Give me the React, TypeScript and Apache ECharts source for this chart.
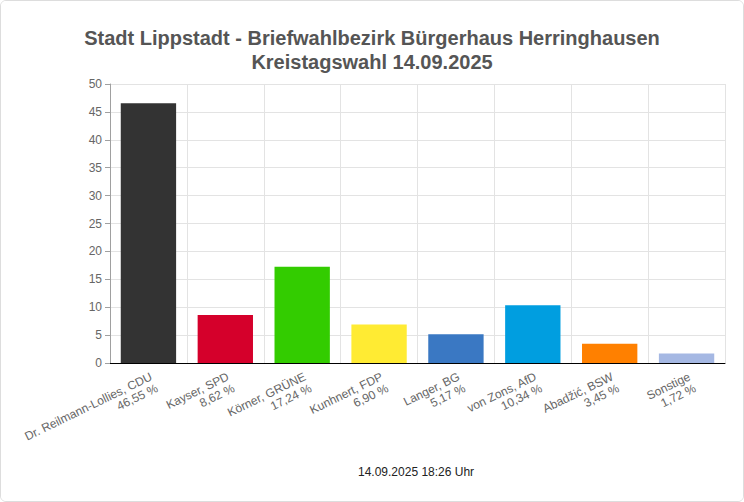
import React, { useEffect, useRef } from "react";
import * as echarts from "echarts";

const categories = [
  "Dr. Reilmann-Lollies, CDU",
  "Kayser, SPD",
  "Körner, GRÜNE",
  "Kunhnert, FDP",
  "Langer, BG",
  "von Zons, AfD",
  "Abadžić, BSW",
  "Sonstige",
];
const values = [46.55, 8.62, 17.24, 6.9, 5.17, 10.34, 3.45, 1.72];
const colors = ["#333333", "#d5002b", "#33cc00", "#ffeb33", "#3a78c3", "#009ee0", "#ff8000", "#a5b8e3"];
const titleText = "Stadt Lippstadt - Briefwahlbezirk Bürgerhaus Herringhausen\nKreistagswahl 14.09.2025";
const footerText = "14.09.2025 18:26 Uhr";

export default function App() {
  const ref = useRef<HTMLDivElement>(null);
  useEffect(() => {
    document.body.style.margin = "0";
    const chart = echarts.init(ref.current!, null, { renderer: "svg" });
    chart.setOption({
      animation: false,
      backgroundColor: "#ffffff",
      title: {
        text: titleText,
        left: "center",
        top: 20,
        textStyle: {
          fontFamily: "Liberation Sans, Arial, sans-serif",
          fontSize: 20,
          fontWeight: "bold",
          color: "#555555",
          lineHeight: 24,
        },
      },
      graphic: [
        {
          type: "text",
          left: 357,
          top: 465,
          style: {
            text: footerText,
            font: "12px Liberation Sans, Arial, sans-serif",
            fill: "#222222",
          },
        },
      ],
      grid: { left: 109, right: 18, top: 83, bottom: 138 },
      xAxis: {
        type: "category",
        data: categories,
        axisLine: { show: true, lineStyle: { color: "#000000", width: 1 } },
        axisTick: { show: false },
        splitLine: { show: true, lineStyle: { color: "#e3e3e3" } },
        axisLabel: {
          rotate: 26,
          interval: 0,
          margin: 7,
          align: "right",
          verticalAlign: "top",
          color: "#666666",
          fontFamily: "Liberation Sans, Arial, sans-serif",
          fontSize: 12,
          lineHeight: 13,
          formatter: (v: string, i: number) =>
            `${v}\n${values[i].toFixed(2).replace(".", ",")} %`,
        },
      },
      yAxis: {
        type: "value",
        min: 0,
        max: 50,
        interval: 5,
        axisLine: { show: true, lineStyle: { color: "#a0a0a0" } },
        axisTick: { show: true, length: 5, lineStyle: { color: "#a0a0a0" } },
        splitLine: { show: true, lineStyle: { color: "#e3e3e3" } },
        axisLabel: {
          color: "#666666",
          fontFamily: "Liberation Sans, Arial, sans-serif",
          fontSize: 12,
          margin: 8,
        },
      },
      series: [
        {
          type: "bar",
          data: values.map((v, i) => ({ value: v, itemStyle: { color: colors[i] } })),
          barCategoryGap: "28%",
        },
      ],
    });
    return () => chart.dispose();
  }, []);
  return (
    <div
      style={{
        position: "absolute",
        left: 0,
        top: 0,
        width: 742,
        height: 500,
        border: "1px solid #dddddd",
        borderRadius: 6,
        overflow: "hidden",
      }}
    >
      <div ref={ref} style={{ width: 742, height: 500 }} />
    </div>
  );
}
